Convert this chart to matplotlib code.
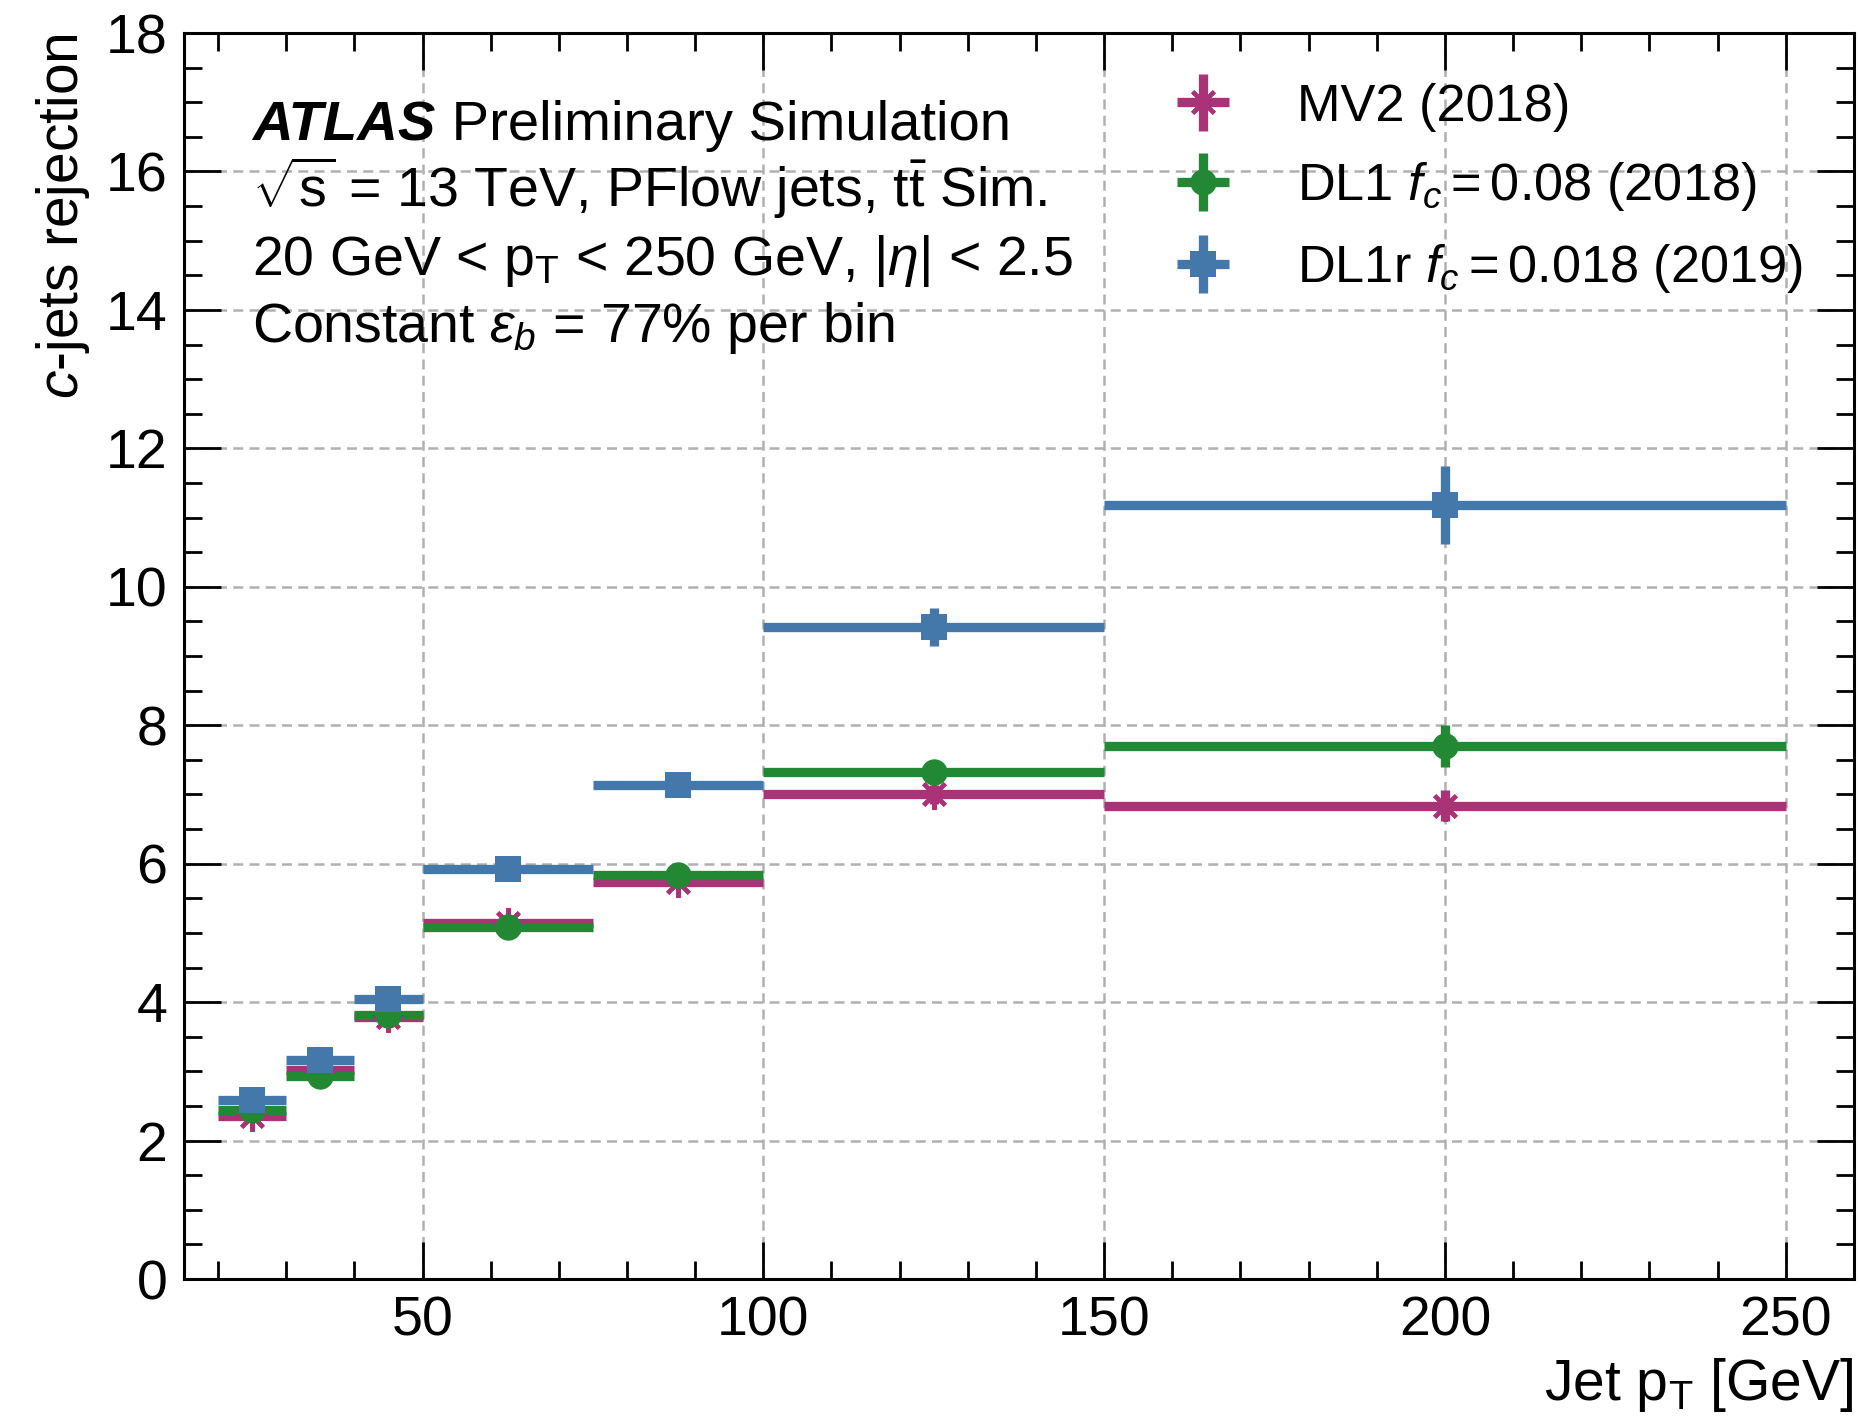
import numpy as np
import matplotlib
matplotlib.use("Agg")
import matplotlib.pyplot as plt
from matplotlib.ticker import MultipleLocator
from matplotlib.legend_handler import HandlerErrorbar

plt.rcParams['font.family'] = ['Liberation Sans', 'DejaVu Sans']
plt.rcParams['mathtext.fontset'] = 'custom'
plt.rcParams['mathtext.rm'] = 'Liberation Sans'
plt.rcParams['mathtext.it'] = 'Liberation Sans:italic'
plt.rcParams['mathtext.bf'] = 'Liberation Sans:bold'

# ---- data ----
bin_edges = [20, 30, 40, 50, 75, 100, 150, 250]
mv2 = [2.36, 3.02, 3.78, 5.15, 5.74, 7.00, 6.84]
mv2_err = [0.04, 0.05, 0.06, 0.06, 0.08, 0.14, 0.22]
dl1 = [2.44, 2.93, 3.81, 5.08, 5.84, 7.32, 7.70]
dl1_err = [0.04, 0.05, 0.06, 0.06, 0.08, 0.16, 0.31]
dl1r = [2.58, 3.16, 4.05, 5.93, 7.13, 9.42, 11.18]
dl1r_err = [0.05, 0.06, 0.08, 0.08, 0.10, 0.28, 0.56]
labels = ["MV2 (2018)", r"DL1 $f_c = 0.08$ (2018)", r"DL1r $f_c = 0.018$ (2019)"]
colors = ["#AA3377", "#228833", "#4477AA"]
markers = [(8, 2, 0), "o", "s"]

edges = np.array(bin_edges, dtype=float)
centers = 0.5 * (edges[1:] + edges[:-1])
halfw = 0.5 * (edges[1:] - edges[:-1])

fig = plt.figure(figsize=(18.6, 14.18), dpi=100)
ax = fig.add_axes([0.0989, 0.0980, 0.8978, 0.8787])

handles = []
for i, (vals, errs, col, mk, lab) in enumerate(zip([mv2, dl1, dl1r],
                                                   [mv2_err, dl1_err, dl1r_err],
                                                   colors, markers, labels)):
    ms = 22 if i == 0 else 19
    mew = 3 if i == 0 else 0
    ax.errorbar(centers, vals, xerr=halfw, yerr=errs, fmt='none',
                ecolor=col, elinewidth=6.7, capsize=0, zorder=3)
    ax.plot(centers, vals, linestyle='none', marker=mk, markersize=ms,
            color=col, markeredgecolor=col, markeredgewidth=mew, zorder=4)
    h = ax.errorbar([np.nan], [np.nan], xerr=[1], yerr=[1], fmt='', linestyle='none',
                    marker=mk, ecolor=col, elinewidth=6.7, capsize=0, markersize=ms,
                    color=col, markeredgewidth=mew, markeredgecolor=col, label=lab)
    handles.append(h)

ax.set_xlim(15, 260)
ax.set_ylim(0, 18)
ax.xaxis.set_major_locator(MultipleLocator(50))
ax.xaxis.set_minor_locator(MultipleLocator(10))
ax.yaxis.set_major_locator(MultipleLocator(2))
ax.yaxis.set_minor_locator(MultipleLocator(0.5))
ax.tick_params(which='both', direction='in', top=True, right=True,
               labelsize=40, width=2, pad=12)
ax.tick_params(which='major', length=26.5)
ax.tick_params(which='minor', length=13)
for sp in ax.spines.values():
    sp.set_linewidth(2.2)
ax.grid(True, which='major', linestyle=(0, (4, 2.5)), color='#b0b0b0', linewidth=1.8, zorder=0)
ax.set_axisbelow(True)

ax.set_xlabel(r"Jet p$_{\mathrm{T}}$ [GeV]", fontsize=41, loc='right', labelpad=6)
ax.set_ylabel(r"$c$-jets rejection", fontsize=41, loc='top', labelpad=10)

leg = ax.legend(handles=handles, labels=labels, loc='upper left',
                bbox_to_anchor=(0.568, 0.998), frameon=False, fontsize=37.7,
                handlelength=0.9, handletextpad=1.35, labelspacing=0.55,
                handler_map={type(handles[0]): HandlerErrorbar(xerr_size=0.5, yerr_size=0.55)})

# annotation text
t1 = ax.text(0.041, 0.914, "ATLAS", transform=ax.transAxes, fontsize=40.5,
             fontweight='bold', fontstyle='italic', va='baseline', ha='left')
ax.annotate(" Preliminary Simulation", xy=(1, 0), xycoords=t1, fontsize=40.5,
            va='bottom', ha='left')
ax.text(0.041, 0.860, r"$\sqrt{\mathrm{s}}$ = 13 TeV, PFlow jets, t$\bar{\mathrm{t}}$ Sim.",
        transform=ax.transAxes, fontsize=40, va='baseline')
ax.text(0.041, 0.806, r"20 GeV < p$_{\mathrm{T}}$ < 250 GeV, |$\eta$| < 2.5",
        transform=ax.transAxes, fontsize=40, va='baseline')
ax.text(0.041, 0.752, r"Constant $\epsilon_b$ = 77% per bin",
        transform=ax.transAxes, fontsize=40, va='baseline')

fig.savefig("out.png", dpi=100)
